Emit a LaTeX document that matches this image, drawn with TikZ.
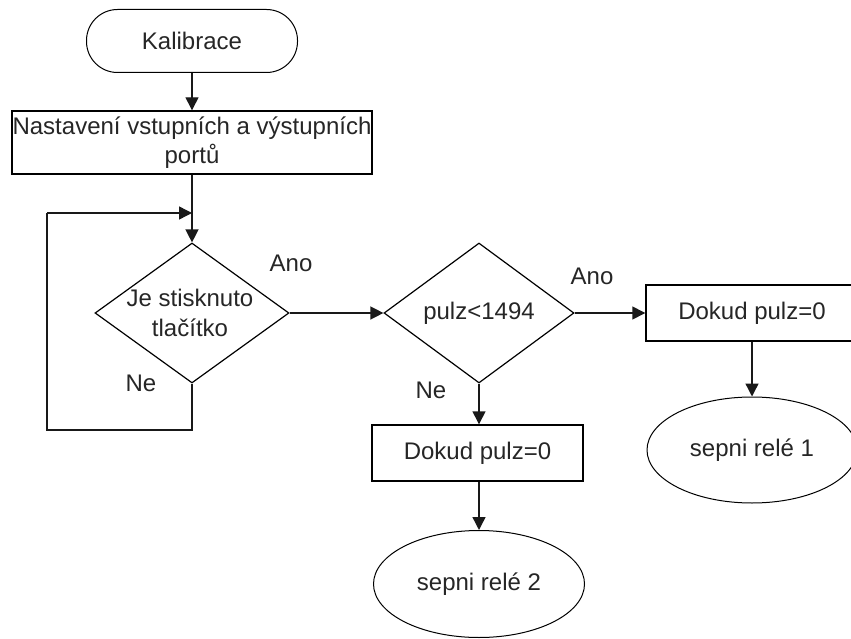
\documentclass[tikz,border=0pt]{standalone}
\usepackage{fontspec}
\setmainfont{Liberation Sans}
\usetikzlibrary{shapes.geometric,arrows.meta}
\begin{document}
\begin{tikzpicture}[x=1pt,y=-1pt,
  every node/.style={font=\fontsize{24}{29}\selectfont, text=black!85, inner sep=0pt},
  line/.style={line width=1.4pt, draw=black!90},
  tip/.style={-{Triangle[length=13pt,width=13pt]}},
  term/.style={draw, line width=1pt, rounded corners=31pt, minimum width=211pt, minimum height=63pt},
  proc/.style={draw, line width=1.4pt, minimum height=56pt},
  dec/.style={draw, diamond, line width=1.2pt},
  ell/.style={draw, ellipse, line width=1pt, minimum width=210pt, minimum height=106pt},
  lbl/.style={}
]
\useasboundingbox (0,0) rectangle (851,639);
\fill[white] (0,0) rectangle (851,639);

\node[term] (kal) at (192,41) {Kalibrace};
\node[proc, minimum width=360pt, minimum height=63pt, align=center, font=\fontsize{24}{29}\selectfont] (nast) at (192,142.5) {Nastavení vstupních a výstupních\\portů};
\node[dec, minimum width=194pt, minimum height=140pt] (je) at (192,313) {};
\node[align=center, font=\fontsize{24}{30}\selectfont] (jet) at (190,313) {Je stisknuto\\tlačítko};
\node[dec, minimum width=190pt, minimum height=140pt] (pulz) at (479,313) {};
\node (pulzt) at (479,313) {pulz<1494};
\node[proc, minimum width=212pt] (dok1) at (752,313) {Dokud pulz=0};
\node[proc, minimum width=211pt] (dok2) at (477.5,453) {Dokud pulz=0};
\node[ell] (rel1) at (752,450) {sepni relé 1};
\node[ell, minimum width=211pt, minimum height=107pt] (rel2) at (479,584) {sepni relé 2};

\coordinate (lb) at (192,430);
\coordinate (ll) at (47,430);
\coordinate (lt) at (47,213);
\coordinate (lr) at (192,213);

\draw[line, tip] (kal) -- (nast);
\draw[line, tip] (nast.south -| je.north) -- (je.north);
\draw[line] (je.south) -- (lb) -- (ll) -- (lt);
\draw[line, tip] (lt) -- (lr);
\draw[line, tip] (je.east) -- (pulz.west);
\draw[line, tip] (pulz.east) -- (dok1.west);
\draw[line, tip] (dok1.south) -- (rel1.north);
\draw[line, tip] (pulz.south) -- (pulz.south |- dok2.north);
\draw[line, tip] (dok2.south -| rel2.north) -- (rel2.north);

\node[lbl] (ano1) at (291,263) {Ano};
\node[lbl] (ne1) at (141,383) {Ne};
\node[lbl] (ano2) at (592,276) {Ano};
\node[lbl] (ne2) at (431,390) {Ne};
\end{tikzpicture}
\end{document}
